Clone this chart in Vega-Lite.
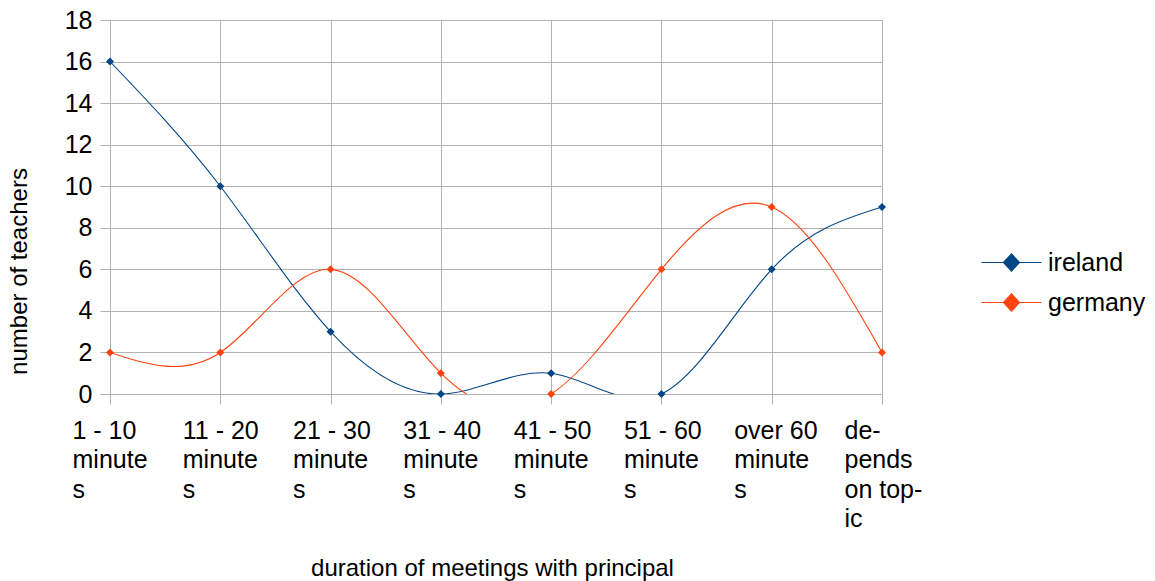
{
  "$schema": "https://vega.github.io/schema/vega-lite/v6.json",
  "width": 772,
  "height": 374,
  "autosize": "none",
  "padding": {"left": 110, "top": 20, "right": 273, "bottom": 187},
  "background": "white",
  "data": {
    "values": [
      {"duration": "1 - 10 minutes", "country": "ireland", "teachers": 16},
      {"duration": "11 - 20 minutes", "country": "ireland", "teachers": 10},
      {"duration": "21 - 30 minutes", "country": "ireland", "teachers": 3},
      {"duration": "31 - 40 minutes", "country": "ireland", "teachers": 0},
      {"duration": "41 - 50 minutes", "country": "ireland", "teachers": 1},
      {"duration": "51 - 60 minutes", "country": "ireland", "teachers": 0},
      {"duration": "over 60 minutes", "country": "ireland", "teachers": 6},
      {"duration": "depends on topic", "country": "ireland", "teachers": 9},
      {"duration": "1 - 10 minutes", "country": "germany", "teachers": 2},
      {"duration": "11 - 20 minutes", "country": "germany", "teachers": 2},
      {"duration": "21 - 30 minutes", "country": "germany", "teachers": 6},
      {"duration": "31 - 40 minutes", "country": "germany", "teachers": 1},
      {"duration": "41 - 50 minutes", "country": "germany", "teachers": 0},
      {"duration": "51 - 60 minutes", "country": "germany", "teachers": 6},
      {"duration": "over 60 minutes", "country": "germany", "teachers": 9},
      {"duration": "depends on topic", "country": "germany", "teachers": 2}
    ]
  },
  "encoding": {
    "x": {
      "field": "duration",
      "type": "nominal",
      "sort": null,
      "scale": {"type": "point", "padding": 0},
      "axis": {
        "title": "duration of meetings with principal",
        "titleX": 382,
        "titleY": 186,
        "titleBaseline": "bottom",
        "titleAlign": "center",
        "labelAngle": 0,
        "labelAlign": "left",
        "labelOffset": -38,
        "labelPadding": 14,
        "labelLineHeight": 29.5,
        "labelExpr": "datum.value == 'depends on topic' ? ['de-', 'pends', 'on top-', 'ic'] : [split(datum.value, ' minutes')[0], 'minute', 's']",
        "grid": true,
        "tickSize": 10
      }
    },
    "y": {
      "field": "teachers",
      "type": "quantitative",
      "scale": {"domain": [0, 18], "nice": false},
      "axis": {
        "title": "number of teachers",
        "values": [0, 2, 4, 6, 8, 10, 12, 14, 16, 18],
        "titleX": -79,
        "titleY": 251,
        "labelPadding": 8,
        "tickSize": 10,
        "grid": true
      }
    },
    "color": {
      "field": "country",
      "type": "nominal",
      "sort": ["ireland", "germany"],
      "scale": {"domain": ["ireland", "germany"], "range": ["#004586", "#ff420e"]},
      "legend": {
        "title": null,
        "orient": "none",
        "legendX": 889,
        "legendY": 230,
        "padding": 0,
        "symbolType": "M-3,0H-0.8M0.8,0H3M-0.8,0L0,-0.85L0.8,0L0,0.85Z",
        "symbolSize": 400,
        "symbolStrokeWidth": 1.2,
        "labelOffset": 24,
        "rowPadding": 14,
        "labelFontSize": 25,
        "labelFont": "Liberation Sans",
        "labelColor": "#000000",
        "encode": {
          "symbols": {
            "update": {
              "stroke": {"scale": "color", "field": "value"},
              "fill": {"scale": "color", "field": "value"},
              "opacity": {"value": 1}
            }
          }
        }
      }
    }
  },
  "layer": [
    {
      "mark": {"type": "line", "interpolate": "natural", "strokeWidth": 1.1, "clip": true}
    },
    {
      "mark": {"type": "point", "shape": "diamond", "filled": true, "size": 64, "opacity": 1}
    }
  ],
  "config": {
    "view": {"stroke": null},
    "font": "Liberation Sans",
    "axis": {
      "labelFont": "Liberation Sans",
      "labelFontSize": 25,
      "labelColor": "#000000",
      "titleFont": "Liberation Sans",
      "titleFontSize": 24,
      "titleFontWeight": "normal",
      "titleColor": "#000000",
      "gridColor": "#b3b3b3",
      "gridOpacity": 1,
      "domainColor": "#b3b3b3",
      "tickColor": "#b3b3b3",
      "domainWidth": 1,
      "gridWidth": 1
    }
  }
}
